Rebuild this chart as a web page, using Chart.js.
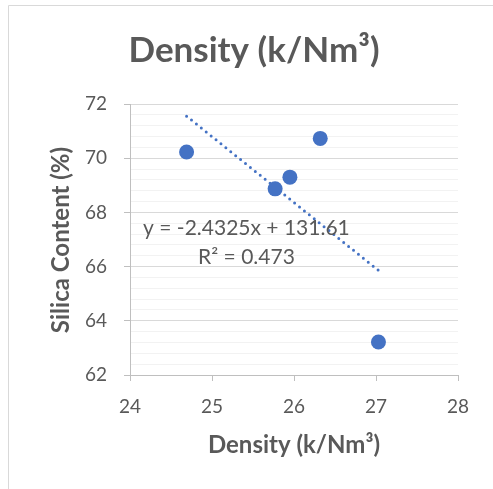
<!DOCTYPE html>
<html>
<head>
<meta charset="utf-8">
<script src="https://cdn.jsdelivr.net/npm/chart.js@4/dist/chart.umd.min.js"></script>
<style>
  html, body { margin: 0; padding: 0; background: #ffffff; }
  #wrap { width: 493px; height: 489px; position: relative; }
</style>
</head>
<body>
<div id="wrap"><canvas id="grafica_1" width="493" height="489"></canvas></div>
<script>
// datos
var densidad = [24.69, 25.77, 25.95, 26.32, 27.03];
var silice = [70.23, 68.87, 69.30, 70.73, 63.22];
var xTicks = [24, 25, 26, 27, 28];
var yTicks = [62, 64, 66, 68, 70, 72];

// línea de tendencia tal como la muestra la etiqueta
var pendiente = -2.4325;
var intercepto = 131.61;
var r2 = 0.473;

var xMin = Math.min.apply(null, densidad);
var xMax = Math.max.apply(null, densidad);
var tendencia = [
    { x: xMin, y: pendiente * xMin + intercepto },
    { x: xMax, y: pendiente * xMax + intercepto }
];

var puntos = densidad.map(function (d, i) { return { x: d, y: silice[i] }; });

function esMayor(v) {
    return Math.abs(v / 2 - Math.round(v / 2)) < 1e-6;
}

var gris = '#595959';

var textos = {
    id: 'textos',
    beforeDraw: function (chart) {
        var c = chart.ctx;
        c.save();
        c.strokeStyle = '#d9d9d9';
        c.lineWidth = 1;
        c.beginPath();
        c.moveTo(8.5, 489);
        c.lineTo(8.5, 5.5);
        c.lineTo(493, 5.5);
        c.stroke();
        c.restore();
    },
    afterDraw: function (chart) {
        var c = chart.ctx;
        var xs = chart.scales.x, ys = chart.scales.y;
        c.save();
        c.fillStyle = gris;
        c.textAlign = 'center';
        c.textBaseline = 'middle';
        c.font = 'bold 35px Lato';
        c.fillText('Density (k/Nm³)', 254, 51);
        c.font = 'bold 24px Lato';
        c.fillText('Density (k/Nm³)', 294, 445);
        c.translate(61, 240);
        c.rotate(-Math.PI / 2);
        c.fillText('Silica Content (%)', 0, 0);
        c.restore();

        c.save();
        c.fillStyle = gris;
        c.textAlign = 'center';
        c.textBaseline = 'middle';
        c.font = '21px Lato';
        var signo = intercepto >= 0 ? ' + ' : ' - ';
        c.fillText('y = ' + pendiente + 'x' + signo + Math.abs(intercepto), xs.getPixelForValue(25.42), ys.getPixelForValue(67.42));
        c.fillText('R² = ' + r2, xs.getPixelForValue(25.42), ys.getPixelForValue(66.33));
        c.restore();
    }
};

var gx1 = document.getElementById("grafica_1").getContext("2d");
var myChart = new Chart(gx1, {
    type: "scatter",
    data: {
        datasets: [{
            label: 'Silica',
            data: puntos,
            backgroundColor: '#4472c4',
            borderColor: '#4472c4',
            pointRadius: 7.5,
            pointHoverRadius: 7.5,
            borderWidth: 0,
            order: 1
        }, {
            label: 'Tendencia',
            type: 'line',
            data: tendencia,
            borderColor: '#4472c4',
            borderWidth: 3,
            borderDash: [0, 6.3],
            borderCapStyle: 'round',
            pointRadius: 0,
            fill: false,
            order: 2
        }]
    },
    options: {
        responsive: false,
        animation: false,
        events: [],
        layout: { padding: { left: 0, top: 104, right: 35, bottom: 0 } },
        plugins: {
            legend: { display: false },
            title: { display: false },
            tooltip: { enabled: false }
        },
        scales: {
            x: {
                type: 'linear',
                min: 24,
                max: 28,
                afterFit: function (s) { s.height = 114; },
                afterBuildTicks: function (s) { s.ticks = xTicks.map(function (v) { return { value: v }; }); },
                ticks: {
                    color: gris,
                    font: { family: 'Lato', size: 19 },
                    padding: 14,
                    maxRotation: 0,
                    autoSkip: false
                },
                grid: {
                    drawOnChartArea: false,
                    tickLength: 6,
                    tickColor: '#bfbfbf'
                },
                border: { color: '#bfbfbf', width: 1 }
            },
            y: {
                type: 'linear',
                min: 62,
                max: 72,
                afterFit: function (s) { s.width = 130; },
                ticks: {
                    stepSize: 0.4,
                    autoSkip: false,
                    color: gris,
                    font: { family: 'Lato', size: 19 },
                    padding: 17,
                    callback: function (v) { return esMayor(v) ? Math.round(v) : ''; }
                },
                grid: {
                    tickLength: 6,
                    color: function (ctx) { return esMayor(ctx.tick.value) ? '#d9d9d9' : '#f2f2f2'; },
                    tickColor: function (ctx) { return esMayor(ctx.tick.value) ? '#bfbfbf' : 'rgba(0,0,0,0)'; }
                },
                border: { color: '#bfbfbf', width: 1 }
            }
        }
    },
    plugins: [textos]
});
</script>
</body>
</html>
